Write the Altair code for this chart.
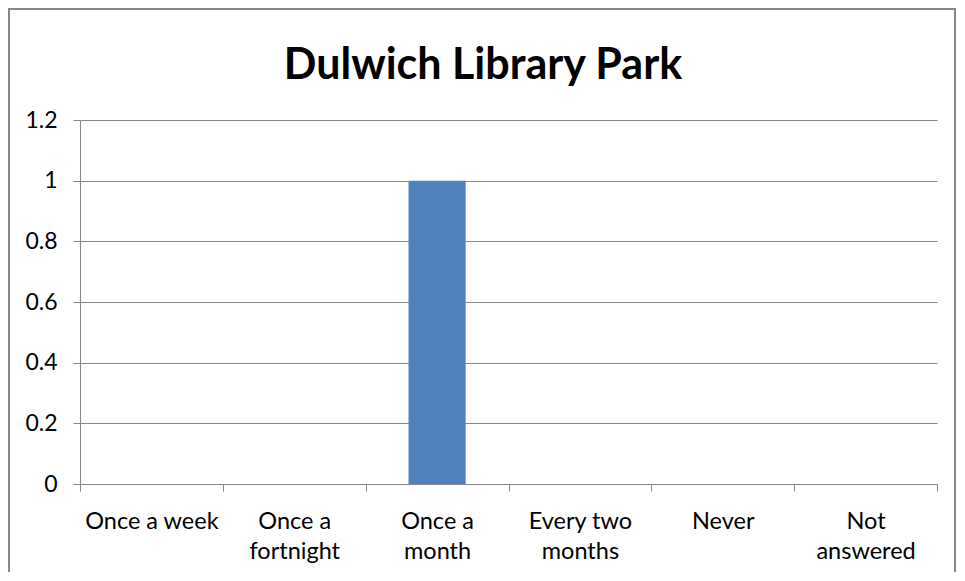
import json
import altair as alt
import pandas as pd

title_text = "Dulwich Library Park"
categories = ["Once a week", "Once a fortnight", "Once a month", "Every two months", "Never", "Not answered"]
label_lines = [["Once a week"], ["Once a", "fortnight"], ["Once a", "month"], ["Every two", "months"], ["Never"], ["Not", "answered"]]
values = [0, 0, 1, 0, 0, 0]
y_ticks = [0, 0.2, 0.4, 0.6, 0.8, 1.0, 1.2]

df = pd.DataFrame({"category": categories, "value": values})
label_map = json.dumps(dict(zip(categories, label_lines)))

FONT = "Lato"
GRAY = "#868686"

bars = alt.Chart(df).mark_bar(color="#4F81BD", width=alt.RelativeBandSize(0.4)).encode(
    x=alt.X(
        "category:N",
        sort=categories,
        scale=alt.Scale(paddingInner=0, paddingOuter=0),
        axis=alt.Axis(
            title=None,
            labelAngle=0,
            labelExpr=f"{label_map}[datum.label]",
            labelFont=FONT,
            labelFontSize=23.5,
            labelColor="black",
            labelPadding=18,
            labelLineHeight=30,
            tickBand="extent",
            tickExtra=True,
            tickSize=7,
            tickColor=GRAY,
            domainColor=GRAY,
            grid=False,
        ),
    ),
    y=alt.Y(
        "value:Q",
        scale=alt.Scale(domain=[0, 1.2], nice=False),
        axis=alt.Axis(
            title=None,
            values=y_ticks,
            format="~g",
            labelFont=FONT,
            labelFontSize=23,
            labelColor="black",
            labelPadding=16,
            tickSize=7,
            tickColor=GRAY,
            domainColor=GRAY,
            gridColor=GRAY,
            gridOpacity=1,
        ),
    ),
)

title = alt.Chart(pd.DataFrame({"t": [title_text]})).mark_text(
    font=FONT, fontSize=43, fontWeight="bold", color="black", baseline="middle", align="center"
).encode(text="t:N", x=alt.value(403), y=alt.value(-54))

frame = alt.Chart(df).mark_rect(fill="transparent", stroke=GRAY, strokeWidth=1.5).encode(
    x=alt.value(-71), x2=alt.value(875), y=alt.value(-111), y2=alt.value(480)
)

chart = alt.layer(bars, title, frame).properties(
    width=857,
    height=364,
    padding={"left": 72, "top": 112, "right": 20, "bottom": 88},
    autosize=alt.AutoSizeParams(type="none"),
).configure_view(stroke=None)

chart.save("out.html", embed_options={"renderer": "svg", "actions": False})
